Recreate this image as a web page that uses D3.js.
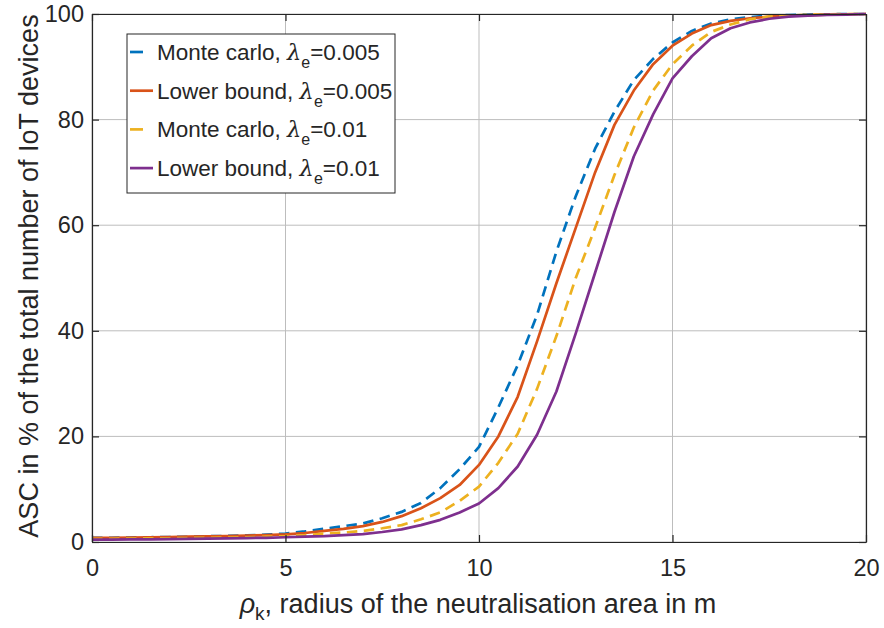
<!DOCTYPE html>
<html>
<head>
<meta charset="utf-8">
<script src="https://cdn.jsdelivr.net/npm/d3@7"></script>
<style>
  html, body { margin: 0; padding: 0; background: #fff; }
  svg { display: block; }
  text { font-family: "Liberation Sans", Arial, Helvetica, sans-serif; fill: #262626; }
</style>
</head>
<body>
<svg id="chart" width="884" height="628"></svg>
<script>
// Neutralisation radius rho_k in metres (0 to 20, step 0.5)
const radius = [0,0.5,1,1.5,2,2.5,3,3.5,4,4.5,5,5.5,6,6.5,7,7.5,8,8.5,9,9.5,10,
                10.5,11,11.5,12,12.5,13,13.5,14,14.5,15,15.5,16,16.5,17,17.5,18,18.5,19,19.5,20];

// ASC in % of the total number of IoT devices
const mcLow = [0.8,0.8,0.85,0.9,0.95,1.0,1.1,1.15,1.25,1.4,1.6,2.0,2.5,3.0,3.5,4.5,5.7,7.4,10.2,13.8,18.0,
               25.5,33.5,43.0,55.0,65.5,74.5,81.5,87.5,91.5,94.6,96.8,98.2,99.0,99.4,99.7,99.8,99.9,99.95,100,100];
const lbLow = [0.8,0.8,0.85,0.9,0.95,1.0,1.05,1.1,1.2,1.3,1.45,1.7,2.1,2.5,3.0,3.8,4.9,6.4,8.3,10.8,14.6,
               20.0,27.5,38.0,49.0,59.5,70.0,79.0,85.5,90.5,94.0,96.3,97.9,98.7,99.2,99.5,99.7,99.8,99.9,99.95,100];
const mcHigh = [0.6,0.6,0.65,0.7,0.7,0.75,0.8,0.85,0.9,1.0,1.1,1.3,1.6,1.8,2.1,2.6,3.2,4.3,5.6,7.8,10.5,
                15.0,20.5,29.0,39.0,50.0,59.5,69.5,78.5,85.5,90.5,94.0,96.6,98.0,99.0,99.5,99.7,99.85,99.9,100,100];
const lbHigh = [0.45,0.45,0.5,0.5,0.55,0.6,0.65,0.7,0.75,0.8,0.9,1.0,1.1,1.3,1.5,1.9,2.4,3.2,4.2,5.6,7.3,
                10.2,14.3,20.3,28.5,39.5,51.0,62.5,73.0,81.0,87.8,92.0,95.4,97.3,98.4,99.1,99.5,99.7,99.85,99.9,100];

const seriesNames = ["Monte carlo, ", "Lower bound, ", "Monte carlo, ", "Lower bound, "];
const lambdaValues = ["=0.005", "=0.005", "=0.01", "=0.01"];
const seriesValues = [mcLow, lbLow, mcHigh, lbHigh];
const seriesColors = ["#0072BD", "#D95319", "#EDB120", "#7E2F8E"];
const seriesDashed = [true, false, true, false];

const xTicks = [0, 5, 10, 15, 20];
const yTicks = [0, 20, 40, 60, 80, 100];

const svg = d3.select("#chart");
const margin = { left: 92, top: 14, right: 884 - 866, bottom: 628 - 542 };
const W = 884 - margin.left - margin.right;
const H = 628 - margin.top - margin.bottom;

const x = d3.scaleLinear().domain([0, 20]).range([margin.left, margin.left + W]);
const y = d3.scaleLinear().domain([0, 100]).range([margin.top + H, margin.top]);

// grid
const grid = svg.append("g");
grid.selectAll("line.gx").data(xTicks).join("line")
  .attr("x1", d => x(d)).attr("x2", d => x(d))
  .attr("y1", y(0)).attr("y2", y(100))
  .attr("stroke", "#bdbdbd").attr("stroke-width", 1);
grid.selectAll("line.gy").data(yTicks).join("line")
  .attr("x1", x(0)).attr("x2", x(20))
  .attr("y1", d => y(d)).attr("y2", d => y(d))
  .attr("stroke", "#bdbdbd").attr("stroke-width", 1);

// curves
const line = d3.line().x((d, i) => x(radius[i])).y(d => y(d));
seriesValues.forEach((vals, k) => {
  svg.append("path")
    .datum(vals)
    .attr("d", line)
    .attr("fill", "none")
    .attr("stroke", seriesColors[k])
    .attr("stroke-width", 2.7)
    .attr("stroke-dasharray", seriesDashed[k] ? "10.5,6.5" : null)
    .attr("stroke-linejoin", "round");
});

// axes with inward ticks
const xAxis = d3.axisBottom(x).tickValues(xTicks).tickSizeInner(-7).tickSizeOuter(0).tickPadding(17);
const yAxis = d3.axisLeft(y).tickValues(yTicks).tickSizeInner(-7).tickSizeOuter(0).tickPadding(8);
const gx = svg.append("g").attr("transform", `translate(0,${y(0)})`).call(xAxis);
const gy = svg.append("g").attr("transform", `translate(${x(0)},0)`).call(yAxis);
const gxTop = svg.append("g").attr("transform", `translate(0,${y(100)})`)
  .call(d3.axisTop(x).tickValues(xTicks).tickSizeInner(-7).tickSizeOuter(0).tickFormat(""));
const gyRight = svg.append("g").attr("transform", `translate(${x(20)},0)`)
  .call(d3.axisRight(y).tickValues(yTicks).tickSizeInner(-7).tickSizeOuter(0).tickFormat(""));
[gx, gy, gxTop, gyRight].forEach(g => {
  g.select(".domain").attr("stroke", "#262626").attr("stroke-width", 1.2);
  g.selectAll(".tick line").attr("stroke", "#262626").attr("stroke-width", 1.2);
  g.selectAll(".tick text").attr("font-size", 23.5).attr("fill", "#262626")
    .attr("font-family", "'Liberation Sans', Arial, sans-serif");
});

// axis titles
const xl = svg.append("text")
  .attr("x", 478).attr("y", 613)
  .attr("text-anchor", "middle").attr("font-size", 27);
xl.append("tspan").attr("font-style", "italic").text("ρ");
xl.append("tspan").attr("font-size", 19).attr("dy", 7).text("k");
xl.append("tspan").attr("dy", -7).text(", radius of the neutralisation area in m");

svg.append("text")
  .attr("transform", `translate(38,${y(50) - 2}) rotate(-90)`)
  .attr("text-anchor", "middle").attr("font-size", 27)
  .text("ASC in % of the total number of IoT devices");

// legend
const leg = svg.append("g");
leg.append("rect")
  .attr("x", 127).attr("y", 34).attr("width", 268).attr("height", 159)
  .attr("fill", "#fff").attr("stroke", "#262626").attr("stroke-width", 1);
seriesNames.forEach((name, k) => {
  const cy = 52 + k * 38.7;
  leg.append("line")
    .attr("x1", 130).attr("x2", seriesDashed[k] ? 143 : 153)
    .attr("y1", cy).attr("y2", cy)
    .attr("stroke", seriesColors[k]).attr("stroke-width", 2.7);
  const t = leg.append("text").attr("x", 157).attr("y", cy + 8).attr("font-size", 22.5);
  t.append("tspan").text(name);
  t.append("tspan").attr("font-style", "italic").attr("font-family", "'DejaVu Serif', serif").text("λ");
  t.append("tspan").attr("font-size", 16).attr("dy", 8).text("e");
  t.append("tspan").attr("dy", -8).text(lambdaValues[k]);
});
</script>
</body>
</html>
